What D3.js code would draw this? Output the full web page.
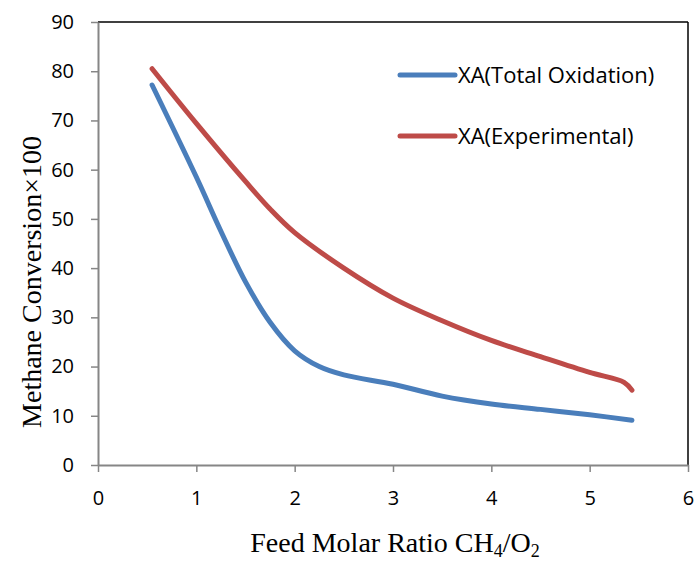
<!DOCTYPE html>
<html>
<head>
<meta charset="utf-8">
<script src="https://cdn.jsdelivr.net/npm/d3@7"></script>
<style>
  body { margin: 0; background: #fff; }
  .tick text { font-family: "Open Sans", "Liberation Sans", sans-serif; font-size: 20px; fill: #000; }
  .axis-label { font-family: "Liberation Serif", "DejaVu Serif", serif; font-size: 28px; }
  .legend text { font-family: "Open Sans", "Liberation Sans", sans-serif; font-size: 22px; }
</style>
</head>
<body>
<div id="chart"></div>
<script>
const xTicks = [0, 1, 2, 3, 4, 5, 6];
const yTicks = [0, 10, 20, 30, 40, 50, 60, 70, 80, 90];

const totalX = [0.55, 1.0, 1.25, 1.5, 1.75, 2.0, 2.25, 2.5, 3.0, 3.5, 4.0, 4.5, 5.0, 5.43];
const totalY = [77.2, 58.5, 47.5, 37.2, 29.0, 23.2, 20.0, 18.3, 16.4, 14.0, 12.4, 11.3, 10.2, 9.1];

const expX = [0.55, 1.0, 1.5, 1.75, 2.0, 2.5, 3.0, 3.5, 4.0, 4.5, 5.0, 5.35, 5.43];
const expY = [80.5, 69.4, 57.6, 52.0, 47.2, 40.0, 33.9, 29.3, 25.3, 22.0, 18.8, 16.8, 15.2];

const series = [
    { name: 'XA(Total Oxidation)', color: '#4a7ebb', xs: totalX, ys: totalY },
    { name: 'XA(Experimental)', color: '#be4b48', xs: expX, ys: expY }
];

const W = 696, H = 564;
const margin = { top: 22, right: 8, bottom: 99, left: 98 };
const width = W - margin.left - margin.right;
const height = H - margin.top - margin.bottom;

const svg = d3.select('#chart').append('svg')
    .attr('width', W)
    .attr('height', H);

const g = svg.append('g')
    .attr('transform', `translate(${margin.left},${margin.top})`);

const x = d3.scaleLinear().domain([0, 6]).range([0, width]);
const y = d3.scaleLinear().domain([0, 90]).range([height, 0]);

// Plot frame: top and right edges
g.append('line')
    .attr('x1', 0).attr('x2', width).attr('y1', 0).attr('y2', 0)
    .attr('stroke', '#000').attr('stroke-width', 1.5);
g.append('line')
    .attr('x1', width).attr('x2', width).attr('y1', 0).attr('y2', height)
    .attr('stroke', '#000').attr('stroke-width', 1.5);

// Axes
const xAxis = g.append('g')
    .attr('transform', `translate(0,${height})`)
    .call(d3.axisBottom(x).tickValues(xTicks).tickFormat(d3.format('d')).tickSize(7).tickSizeOuter(0).tickPadding(19));

const yAxis = g.append('g')
    .call(d3.axisLeft(y).tickValues(yTicks).tickFormat(d3.format('d')).tickSize(7).tickSizeOuter(0).tickPadding(17));

[xAxis, yAxis].forEach(a => {
    a.select('.domain').attr('stroke', '#868686').attr('stroke-width', 2);
    a.selectAll('.tick line').attr('stroke', '#868686').attr('stroke-width', 1.5);
});

// Lines
const line = d3.line()
    .x(d => x(d[0]))
    .y(d => y(d[1]))
    .curve(d3.curveCatmullRom.alpha(0.5));

series.forEach(s => {
    g.append('path')
        .datum(s.xs.map((v, i) => [v, s.ys[i]]))
        .attr('fill', 'none')
        .attr('stroke', s.color)
        .attr('stroke-width', 5)
        .attr('stroke-linecap', 'round')
        .attr('d', line);
});

// Legend
const legend = svg.append('g').attr('class', 'legend');
series.forEach((s, i) => {
    const ly = 75 + i * 61;
    legend.append('line')
        .attr('x1', 400).attr('x2', 455)
        .attr('y1', ly).attr('y2', ly)
        .attr('stroke', s.color)
        .attr('stroke-width', 5)
        .attr('stroke-linecap', 'round');
    legend.append('text')
        .attr('x', 458)
        .attr('y', ly)
        .attr('dy', '0.35em')
        .text(s.name);
});

// Axis labels
const xLabel = svg.append('text')
    .attr('class', 'axis-label')
    .attr('x', 395)
    .attr('y', 552)
    .style('text-anchor', 'middle');
xLabel.append('tspan').text('Feed Molar Ratio CH');
xLabel.append('tspan').attr('font-size', '18px').attr('dy', 5).text('4');
xLabel.append('tspan').attr('dy', -5).text('/O');
xLabel.append('tspan').attr('font-size', '18px').attr('dy', 5).text('2');

svg.append('text')
    .attr('class', 'axis-label')
    .attr('transform', 'rotate(-90)')
    .attr('x', -282)
    .attr('y', 41)
    .style('text-anchor', 'middle')
    .text('Methane Conversion×100');
</script>
</body>
</html>
